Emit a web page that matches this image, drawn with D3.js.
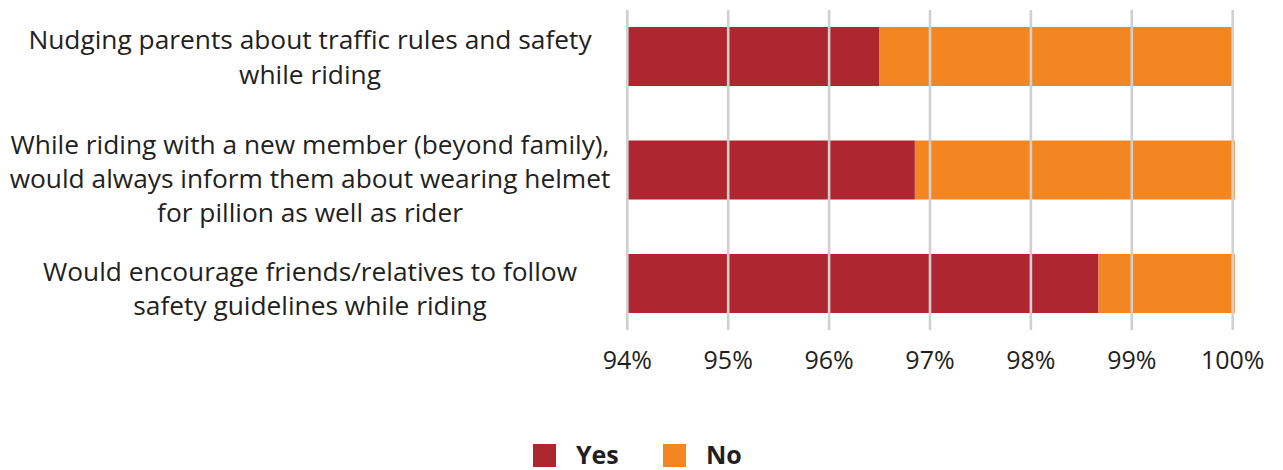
<!DOCTYPE html>
<html>
<head>
<meta charset="utf-8">
<script src="https://cdn.jsdelivr.net/npm/d3@7"></script>
<style>
  html, body { margin: 0; padding: 0; background: #fff; }
  svg { display: block; }
  text { font-family: "Open Sans", "Noto Sans", sans-serif; fill: #231f20; }
</style>
</head>
<body>
<svg id="chart" width="1283" height="470"></svg>
<script>
// Survey statements (each entry is the list of wrapped lines)
const categories = [
  ["Nudging parents about traffic rules and safety", "while riding"],
  ["While riding with a new member (beyond family),", "would always inform them about wearing helmet", "for pillion as well as rider"],
  ["Would encourage friends/relatives to follow", "safety guidelines while riding"]
];
const yesValues = [96.5, 96.85, 98.67];
const noValues = [3.5, 3.17, 1.35];
const seriesNames = ["Yes", "No"];
const seriesColors = ["#ae2630", "#f38620"];
const tickValues = [94, 95, 96, 97, 98, 99, 100];
const tickLabels = ["94%", "95%", "96%", "97%", "98%", "99%", "100%"];

const svg = d3.select("#chart");

const xMin = 94;
const x = d3.scaleLinear().domain([xMin, 100]).range([627.3, 1232.7]);
const y = d3.scaleBand()
  .domain(d3.range(categories.length))
  .range([10, 330])
  .paddingInner(0.48)
  .paddingOuter(0.15);

// Stacked segments: Yes starts at the axis minimum, No continues after it
const rows = categories.map((c, i) => ({ yes: yesValues[i], no: noValues[i] }));
const layers = d3.stack().keys(["yes", "no"])(rows);

const barG = svg.append("g");
layers.forEach((layer, k) => {
  barG.selectAll(null)
    .data(layer)
    .join("rect")
    .attr("x", d => x(Math.max(xMin, d[0])))
    .attr("y", (d, i) => y(i))
    .attr("width", d => x(d[1]) - x(Math.max(xMin, d[0])))
    .attr("height", y.bandwidth())
    .attr("fill", seriesColors[k]);
});

// Vertical gridlines drawn over the bars
svg.append("g")
  .selectAll("line")
  .data(tickValues)
  .join("line")
  .attr("x1", d => x(d)).attr("x2", d => x(d))
  .attr("y1", 10).attr("y2", 330)
  .attr("stroke", "#d0d0d0")
  .attr("stroke-width", 2.6);

// Tick labels
svg.append("g")
  .selectAll("text")
  .data(tickValues)
  .join("text")
  .attr("x", d => x(d))
  .attr("y", 368.5)
  .attr("text-anchor", "middle")
  .style("font-size", "25px")
  .text((d, i) => tickLabels[i]);

// Category labels, centred in the left margin; per-row baseline offsets
const lineGap = [35, 34, 34];
const firstOffset = [-7.2, -15.6, -2.1];
const labelG = svg.append("g");
categories.forEach((lines, i) => {
  const cy = y(i) + y.bandwidth() / 2;
  const t = labelG.append("text")
    .attr("text-anchor", "middle")
    .style("font-size", "26.3px");
  lines.forEach((ln, j) => {
    t.append("tspan")
      .attr("x", 310)
      .attr("y", cy + firstOffset[i] + j * lineGap[i])
      .text(ln);
  });
});

// Legend
const legendX = [533, 663];
const legend = svg.append("g");
seriesNames.forEach((name, k) => {
  legend.append("rect")
    .attr("x", legendX[k]).attr("y", 444)
    .attr("width", 23).attr("height", 23)
    .attr("fill", seriesColors[k]);
  legend.append("text")
    .attr("x", legendX[k] + 43)
    .attr("y", 463.5)
    .style("font-size", "25px")
    .style("font-weight", "bold")
    .text(name);
});
</script>
</body>
</html>
